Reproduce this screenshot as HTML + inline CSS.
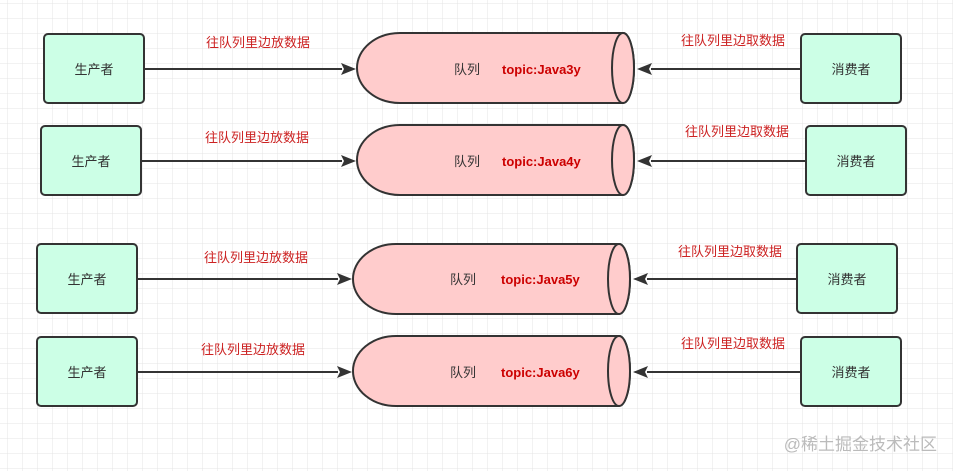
<!DOCTYPE html>
<html><head><meta charset="utf-8"><style>
html,body{margin:0;padding:0;background:#fff}
svg{display:block}
text{font-family:"Liberation Sans","Noto Sans CJK SC",sans-serif}
</style></head><body>
<svg width="953" height="471" viewBox="0 0 953 471" xmlns="http://www.w3.org/2000/svg">
<defs>
<pattern id="g" x="7" y="3" width="15" height="15" patternUnits="userSpaceOnUse">
<path d="M0 0H15M0 0V15" fill="none" stroke="#e4e4e4" stroke-width="1"/>
</pattern>
</defs>
<rect width="953" height="471" fill="url(#g)"/>
<g stroke="#333" stroke-width="2">
<rect x="44" y="34" width="100" height="69" rx="4" fill="#ccffe6"/>
<path d="M400,33 H623 A11 35 0 0 1 623,103 H400 A43 35 0 0 1 400,33 Z" fill="#ffcccc"/>
<ellipse cx="623" cy="68" rx="11" ry="35" fill="#ffcccc"/>
<rect x="801" y="34" width="100" height="69" rx="4" fill="#ccffe6"/>
<line x1="144" y1="69" x2="342" y2="69"/>
<line x1="801" y1="69" x2="651" y2="69"/>
<rect x="41" y="126" width="100" height="69" rx="4" fill="#ccffe6"/>
<path d="M400,125 H623 A11 35 0 0 1 623,195 H400 A43 35 0 0 1 400,125 Z" fill="#ffcccc"/>
<ellipse cx="623" cy="160" rx="11" ry="35" fill="#ffcccc"/>
<rect x="806" y="126" width="100" height="69" rx="4" fill="#ccffe6"/>
<line x1="141" y1="161" x2="342" y2="161"/>
<line x1="806" y1="161" x2="651" y2="161"/>
<rect x="37" y="244" width="100" height="69" rx="4" fill="#ccffe6"/>
<path d="M396,244 H619 A11 35 0 0 1 619,314 H396 A43 35 0 0 1 396,244 Z" fill="#ffcccc"/>
<ellipse cx="619" cy="279" rx="11" ry="35" fill="#ffcccc"/>
<rect x="797" y="244" width="100" height="69" rx="4" fill="#ccffe6"/>
<line x1="137" y1="279" x2="338" y2="279"/>
<line x1="797" y1="279" x2="647" y2="279"/>
<rect x="37" y="337" width="100" height="69" rx="4" fill="#ccffe6"/>
<path d="M396,336 H619 A11 35 0 0 1 619,406 H396 A43 35 0 0 1 396,336 Z" fill="#ffcccc"/>
<ellipse cx="619" cy="371" rx="11" ry="35" fill="#ffcccc"/>
<rect x="801" y="337" width="100" height="69" rx="4" fill="#ccffe6"/>
<line x1="137" y1="372" x2="338" y2="372"/>
<line x1="801" y1="372" x2="647" y2="372"/>
</g>
<g fill="#333">
<polygon points="356,69 341,63 344,69 341,75"/>
<polygon points="637,69 652,63 649,69 652,75"/>
<polygon points="356,161 341,155 344,161 341,167"/>
<polygon points="637,161 652,155 649,161 652,167"/>
<polygon points="352,279 337,273 340,279 337,285"/>
<polygon points="633,279 648,273 645,279 648,285"/>
<polygon points="352,372 337,366 340,372 337,378"/>
<polygon points="633,372 648,366 645,372 648,378"/>
</g>
<g font-size="13" fill="#333" text-anchor="middle">
<text x="94" y="74">生产者</text><text x="851" y="74">消费者</text>
<text x="91" y="166">生产者</text><text x="856" y="166">消费者</text>
<text x="87" y="284">生产者</text><text x="847" y="284">消费者</text>
<text x="87" y="377">生产者</text><text x="851" y="377">消费者</text>
<text x="467" y="74">队列</text><text x="467" y="166">队列</text>
<text x="463" y="284">队列</text><text x="463" y="377">队列</text>
</g>
<g font-size="13" fill="#cc0000" font-weight="bold">
<text x="502" y="74">topic:Java3y</text>
<text x="502" y="166">topic:Java4y</text>
<text x="501" y="284">topic:Java5y</text>
<text x="501" y="377">topic:Java6y</text>
</g>
<g font-size="13" fill="#cc2222" text-anchor="middle">
<text x="258" y="47">往队列里边放数据</text>
<text x="733" y="45">往队列里边取数据</text>
<text x="257" y="142">往队列里边放数据</text>
<text x="737" y="136">往队列里边取数据</text>
<text x="256" y="262">往队列里边放数据</text>
<text x="730" y="256">往队列里边取数据</text>
<text x="253" y="354">往队列里边放数据</text>
<text x="733" y="348">往队列里边取数据</text>
</g>
<text x="937" y="450" font-size="17" fill="#bbb" text-anchor="end">@稀土掘金技术社区</text>
</svg>
</body></html>
